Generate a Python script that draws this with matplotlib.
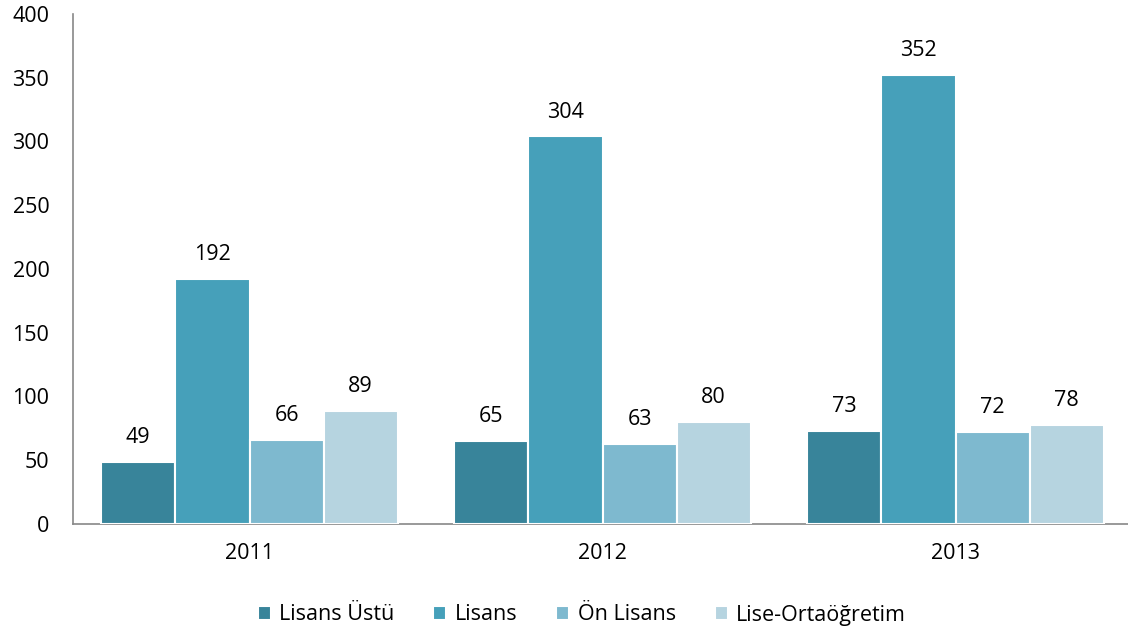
import matplotlib.pyplot as plt
import numpy as np

years = ["2011", "2012", "2013"]
series = ["Lisans Üstü", "Lisans", "Ön Lisans", "Lise-Ortaöğretim"]
lisans_ustu = [49, 65, 73]
lisans = [192, 304, 352]
on_lisans = [66, 63, 72]
lise = [89, 80, 78]
colors = ["#38849A", "#46A0BA", "#7EB9CF", "#B6D4E0"]

plt.rcParams['font.family'] = ['Open Sans', 'DejaVu Sans']
FS = 15.5

fig = plt.figure(figsize=(11.28, 6.37), dpi=100)
ax = fig.add_axes([73 / 1128, 1 - 524 / 637, 1059 / 1128, 510 / 637])

x = np.arange(len(years))
w = 0.21
data = [lisans_ustu, lisans, on_lisans, lise]
for i, (name, vals, c) in enumerate(zip(series, data, colors)):
    pos = x + (i - 1.5) * w
    bars = ax.bar(pos, vals, width=w, color=c, edgecolor="white", linewidth=1.5, label=name, zorder=3)
    for b, v in zip(bars, vals):
        ax.annotate(str(v), (b.get_x() + b.get_width() / 2, v), xytext=(0, 13.5),
                    textcoords="offset points", ha="center", va="baseline", fontsize=FS)

ax.set_xlim(-0.5, 2.5)
ax.set_ylim(0, 400)
ax.set_yticks(range(0, 401, 50))
ax.set_xticks(x)
ax.set_xticklabels(years)
ax.tick_params(axis='both', length=0, labelsize=FS)
ax.tick_params(axis='x', pad=14)
ax.tick_params(axis='y', pad=17)
for s in ["top", "right"]:
    ax.spines[s].set_visible(False)
ax.spines["left"].set_color("#888888")
ax.spines["bottom"].set_color("#888888")
ax.spines["left"].set_linewidth(1.2)
ax.spines["bottom"].set_linewidth(1.2)

fig.legend(loc="center", bbox_to_anchor=(0.516, 1 - 615 / 637), ncol=4, frameon=False, fontsize=FS,
           handlelength=0.6, handleheight=0.6, handletextpad=0.4, columnspacing=1.8)

fig.savefig("out.png", dpi=100)
